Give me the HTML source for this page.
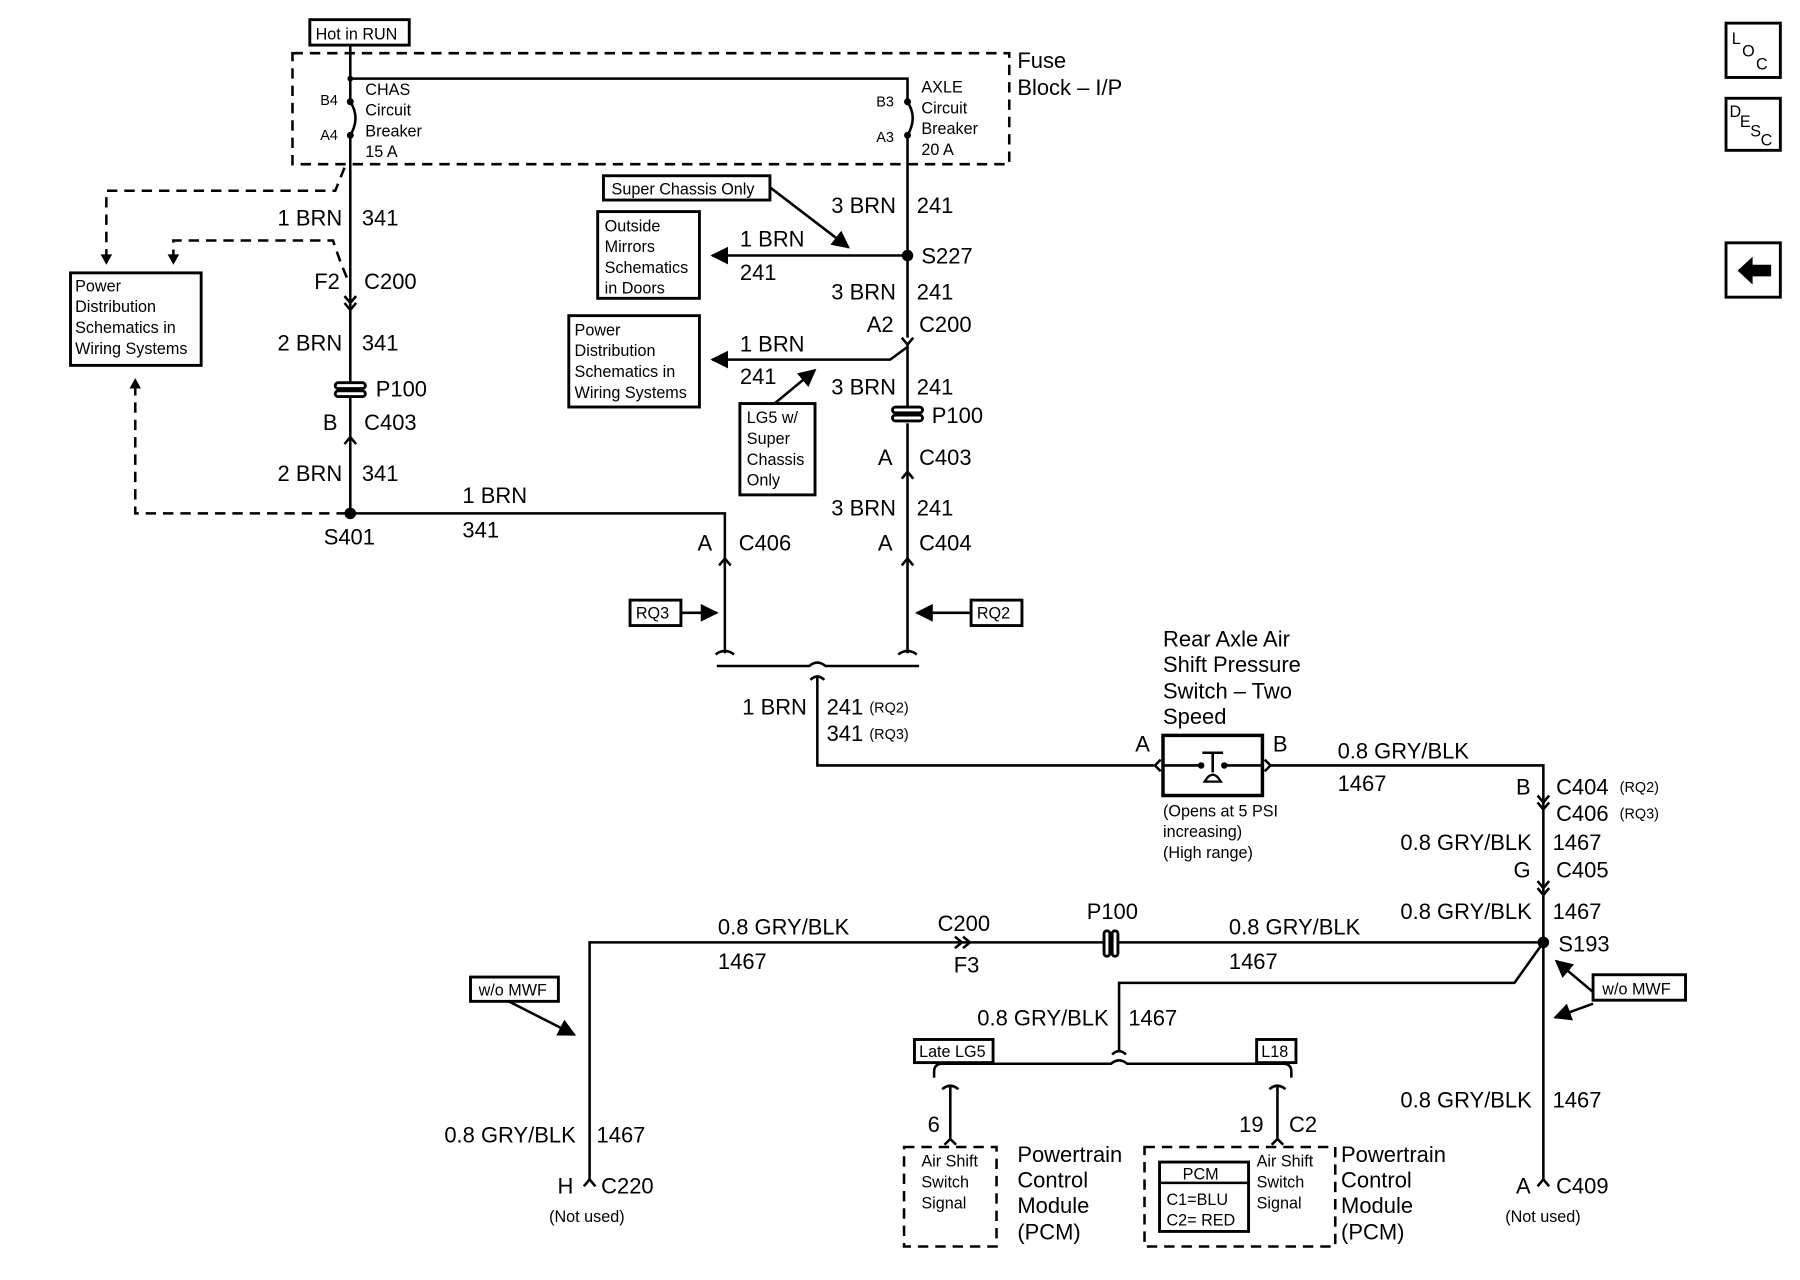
<!DOCTYPE html>
<html><head><meta charset="utf-8"><style>
html,body{margin:0;padding:0;background:#fff;}
svg{display:block;}
text{font-family:"Liberation Sans",Arial,sans-serif;fill:#000;}
.L{font-size:19px;}
.M{font-size:14px;}
.S{font-size:12.5px;}
.w{stroke:#000;stroke-width:2.2;fill:none;}
.d{stroke:#000;stroke-width:2.2;fill:none;stroke-dasharray:9,6;}
.b{stroke:#000;stroke-width:2.5;fill:#fff;}
</style></head><body>
<svg width="1800" height="1280" viewBox="0 0 1557 1107" preserveAspectRatio="none" xmlns="http://www.w3.org/2000/svg">
<defs>
<marker id="ah" viewBox="0 0 10 10" refX="9" refY="5" markerWidth="7" markerHeight="7" orient="auto"><path d="M0,0 L10,5 L0,10 z" fill="#000"/></marker>
</defs>
<rect width="1557" height="1107" fill="#fff"/>

<!-- Hot in RUN -->
<rect x="268" y="17" width="86" height="22" class="b"/>
<text x="273" y="34" class="M">Hot in RUN</text>
<!-- fuse block -->
<rect x="253" y="46" width="620" height="96" class="d" stroke-width="2.6"/>
<text x="880" y="59" class="L">Fuse</text>
<text x="880" y="82" class="L">Block – I/P</text>

<!-- main wires -->
<path class="w" d="M303,39 V86 M303,119 V444 M303,68 H785 V86 M785,119 V292"/>
<path class="w" d="M303,88 Q312,102 303,117 M785,88 Q794,102 785,117"/>
<circle cx="303" cy="68" r="2.5"/><circle cx="303" cy="88" r="3"/><circle cx="303" cy="117" r="3"/>
<circle cx="785" cy="88" r="3"/><circle cx="785" cy="117" r="3"/>
<text x="277" y="91" class="S">B4</text><text x="277" y="121" class="S">A4</text>
<text x="316" y="82" class="M">CHAS</text><text x="316" y="100" class="M">Circuit</text><text x="316" y="118" class="M">Breaker</text><text x="316" y="136" class="M">15 A</text>
<text x="758" y="92" class="S">B3</text><text x="758" y="123" class="S">A3</text>
<text x="797" y="80" class="M">AXLE</text><text x="797" y="98" class="M">Circuit</text><text x="797" y="116" class="M">Breaker</text><text x="797" y="134" class="M">20 A</text>

<!-- left column -->
<text x="296" y="195" class="L" text-anchor="end">1 BRN</text><text x="313" y="195" class="L">341</text>
<text x="294" y="250" class="L" text-anchor="end">F2</text><text x="315" y="250" class="L">C200</text>
<path class="w" d="M298,256 L303,262 L308,256 M298,262 L303,268 L308,262"/>
<text x="296" y="303" class="L" text-anchor="end">2 BRN</text><text x="313" y="303" class="L">341</text>
<rect x="290" y="331" width="26" height="5" rx="2.5" class="b" stroke-width="2"/>
<rect x="290" y="338" width="26" height="5" rx="2.5" class="b" stroke-width="2"/>
<text x="325" y="343" class="L">P100</text>
<text x="292" y="372" class="L" text-anchor="end">B</text><text x="315" y="372" class="L">C403</text>
<path class="w" d="M298,384 L303,378 L308,384"/>
<text x="296" y="416" class="L" text-anchor="end">2 BRN</text><text x="313" y="416" class="L">341</text>
<circle cx="303" cy="444" r="5"/>
<text x="280" y="471" class="L">S401</text>
<path class="w" d="M303,444 H627 V565"/>
<text x="400" y="435" class="L">1 BRN</text><text x="400" y="465" class="L">341</text>
<text x="616" y="476" class="L" text-anchor="end">A</text><text x="639" y="476" class="L">C406</text>
<path class="w" d="M622,489 L627,483 L632,489"/>

<!-- left dashed refs -->
<rect x="61" y="236" width="113" height="80" class="b"/>
<text x="65" y="252" class="M">Power</text><text x="65" y="270" class="M">Distribution</text><text x="65" y="288" class="M">Schematics in</text><text x="65" y="306" class="M">Wiring Systems</text>
<path class="d" d="M298,145 L290,165 H92 V222" /><path d="M87,220 L92,229 L97,220 z"/>
<path class="d" d="M300,240 L295,228 L288,208 H150 V222"/><path d="M145,220 L150,229 L155,220 z"/>
<path class="d" d="M300,444 H117 V334"/><path d="M112,336 L117,327 L122,336 z"/>

<!-- right column -->
<text x="775" y="184" class="L" text-anchor="end">3 BRN</text><text x="793" y="184" class="L">241</text>
<circle cx="785" cy="221" r="5"/>
<text x="797" y="228" class="L">S227</text>
<path class="w" d="M785,221 H616" marker-end="url(#ah)"/>
<text x="640" y="213" class="L">1 BRN</text><text x="640" y="242" class="L">241</text>
<rect x="522" y="152" width="144" height="21" class="b"/>
<text x="529" y="168" class="M">Super Chassis Only</text>
<path class="w" d="M666,162 L734,214" marker-end="url(#ah)"/>
<rect x="517" y="183" width="88" height="75" class="b"/>
<text x="523" y="200" class="M">Outside</text><text x="523" y="218" class="M">Mirrors</text><text x="523" y="236" class="M">Schematics</text><text x="523" y="254" class="M">in Doors</text>
<text x="775" y="259" class="L" text-anchor="end">3 BRN</text><text x="793" y="259" class="L">241</text>
<text x="773" y="287" class="L" text-anchor="end">A2</text><text x="795" y="287" class="L">C200</text>
<path class="w" d="M780,292 L785,298 L790,292 M785,298 V300 L770,311 H616" marker-end="url(#ah)"/>
<path class="w" d="M785,300 V352 M785,366 V565"/>
<text x="640" y="304" class="L">1 BRN</text><text x="640" y="332" class="L">241</text>
<rect x="492" y="273" width="113" height="79" class="b"/>
<text x="497" y="290" class="M">Power</text><text x="497" y="308" class="M">Distribution</text><text x="497" y="326" class="M">Schematics in</text><text x="497" y="344" class="M">Wiring Systems</text>
<rect x="640" y="349" width="65" height="79" class="b"/>
<text x="646" y="366" class="M">LG5 w/</text><text x="646" y="384" class="M">Super</text><text x="646" y="402" class="M">Chassis</text><text x="646" y="420" class="M">Only</text>
<path class="w" d="M670,349 L705,320" marker-end="url(#ah)"/>
<text x="775" y="341" class="L" text-anchor="end">3 BRN</text><text x="793" y="341" class="L">241</text>
<rect x="772" y="352" width="26" height="5" rx="2.5" class="b" stroke-width="2"/>
<rect x="772" y="359" width="26" height="5" rx="2.5" class="b" stroke-width="2"/>
<text x="806" y="366" class="L">P100</text>
<text x="772" y="402" class="L" text-anchor="end">A</text><text x="795" y="402" class="L">C403</text>
<path class="w" d="M780,414 L785,408 L790,414"/>
<text x="775" y="446" class="L" text-anchor="end">3 BRN</text><text x="793" y="446" class="L">241</text>
<text x="772" y="476" class="L" text-anchor="end">A</text><text x="795" y="476" class="L">C404</text>
<path class="w" d="M780,489 L785,483 L790,489"/>

<!-- RQ3 RQ2 -->
<rect x="545" y="519" width="44" height="22" class="b"/><text x="550" y="535" class="M">RQ3</text>
<path class="w" d="M590,530 H620" marker-end="url(#ah)"/>
<rect x="840" y="519" width="44" height="22" class="b"/><text x="845" y="535" class="M">RQ2</text>
<path class="w" d="M840,530 H793" marker-end="url(#ah)"/>

<!-- bracket -->
<path class="w" d="M619,566 Q627,560 635,566 M777,566 Q785,560 793,566"/>
<path class="w" d="M620,576 H700 Q707,570 714,576 H795"/>
<path class="w" d="M701,588 Q707,582 713,588 M707,584 V662 H998"/>
<text x="698" y="618" class="L" text-anchor="end">1 BRN</text>
<text x="715" y="618" class="L">241</text><text x="752" y="616" class="S">(RQ2)</text>
<text x="715" y="641" class="L">341</text><text x="752" y="639" class="S">(RQ3)</text>

<!-- switch -->
<text x="1006" y="559" class="L">Rear Axle Air</text><text x="1006" y="581" class="L">Shift Pressure</text><text x="1006" y="604" class="L">Switch – Two</text><text x="1006" y="626" class="L">Speed</text>
<rect x="1006" y="636" width="86" height="52" fill="none" stroke="#000" stroke-width="3"/>
<path class="w" d="M1004,657 L999,662 L1004,667 M1094,657 L1099,662 L1094,667"/>
<path class="w" d="M1006,662 H1039 M1059,662 H1092 M1040,651 H1058 M1049,651 V668"/>
<circle cx="1039" cy="662" r="2.8"/><circle cx="1059" cy="662" r="2.8"/>
<path d="M1042,676 Q1049,664 1056,676 z" fill="#fff" stroke="#000" stroke-width="2"/>
<text x="982" y="650" class="L">A</text><text x="1101" y="650" class="L">B</text>
<text x="1006" y="706" class="M">(Opens at 5 PSI</text><text x="1006" y="724" class="M">increasing)</text><text x="1006" y="742" class="M">(High range)</text>
<path class="w" d="M1099,662 H1335 V1020"/>
<text x="1157" y="656" class="L">0.8 GRY/BLK</text><text x="1157" y="684" class="L">1467</text>
<text x="1324" y="687" class="L" text-anchor="end">B</text><text x="1346" y="687" class="L">C404</text><text x="1401" y="685" class="S">(RQ2)</text>
<text x="1346" y="710" class="L">C406</text><text x="1401" y="708" class="S">(RQ3)</text>
<path class="w" d="M1330,688 L1335,694 L1340,688 M1330,694 L1335,700 L1340,694"/>
<text x="1325" y="735" class="L" text-anchor="end">0.8 GRY/BLK</text><text x="1343" y="735" class="L">1467</text>
<text x="1324" y="759" class="L" text-anchor="end">G</text><text x="1346" y="759" class="L">C405</text>
<path class="w" d="M1330,762 L1335,768 L1340,762 M1330,768 L1335,774 L1340,768"/>
<text x="1325" y="795" class="L" text-anchor="end">0.8 GRY/BLK</text><text x="1343" y="795" class="L">1467</text>
<circle cx="1335" cy="815" r="5"/>
<text x="1348" y="823" class="L">S193</text>

<!-- bottom horizontal -->
<path class="w" d="M1335,815 H966 M958,815 H510 V1020"/>
<rect x="955" y="805" width="5" height="22" rx="2.5" class="b" stroke-width="2"/>
<rect x="962" y="805" width="5" height="22" rx="2.5" class="b" stroke-width="2"/>
<text x="940" y="795" class="L">P100</text>
<path class="w" d="M826,810 L832,815 L826,820 M833,810 L839,815 L833,820"/>
<text x="811" y="805" class="L">C200</text><text x="825" y="841" class="L">F3</text>
<text x="621" y="808" class="L">0.8 GRY/BLK</text><text x="621" y="838" class="L">1467</text>
<text x="1063" y="808" class="L">0.8 GRY/BLK</text><text x="1063" y="838" class="L">1467</text>
<path class="w" d="M1335,815 L1310,850 H968 V910"/>
<text x="959" y="887" class="L" text-anchor="end">0.8 GRY/BLK</text><text x="976" y="887" class="L">1467</text>
<path class="w" d="M808,932 V927 Q808,920 815,920 H961 Q968,914 975,920 H1110 Q1117,920 1117,927 V932"/>
<path class="w" d="M962,912 Q968,906 974,912"/>
<rect x="791" y="899" width="68" height="20" class="b"/><text x="795" y="914" class="M">Late LG5</text>
<rect x="1087" y="899" width="34" height="20" class="b"/><text x="1091" y="914" class="M">L18</text>
<path class="w" d="M815,942 Q822,936 829,942 M822,938 V985 M1098,942 Q1105,936 1112,942 M1105,938 V985"/>
<text x="813" y="979" class="L" text-anchor="end">6</text>
<text x="1093" y="979" class="L" text-anchor="end">19</text><text x="1115" y="979" class="L">C2</text>
<path class="w" d="M817,990 L822,985 L827,990 M1100,990 L1105,985 L1110,990"/>
<rect x="782" y="992" width="80" height="86" class="d" stroke-width="2.6"/>
<text x="797" y="1009" class="M">Air Shift</text><text x="797" y="1027" class="M">Switch</text><text x="797" y="1045" class="M">Signal</text>
<text x="880" y="1005" class="L">Powertrain</text><text x="880" y="1027" class="L">Control</text><text x="880" y="1049" class="L">Module</text><text x="880" y="1072" class="L">(PCM)</text>
<rect x="990" y="992" width="165" height="86" class="d" stroke-width="2.6"/>
<rect x="1003" y="1005" width="77" height="60" fill="none" stroke="#000" stroke-width="2.5"/>
<path class="w" d="M1003,1023 H1080"/>
<text x="1023" y="1020" class="M">PCM</text>
<text x="1009" y="1042" class="M">C1=BLU</text><text x="1009" y="1060" class="M">C2= RED</text>
<text x="1087" y="1009" class="M">Air Shift</text><text x="1087" y="1027" class="M">Switch</text><text x="1087" y="1045" class="M">Signal</text>
<text x="1160" y="1005" class="L">Powertrain</text><text x="1160" y="1027" class="L">Control</text><text x="1160" y="1049" class="L">Module</text><text x="1160" y="1072" class="L">(PCM)</text>

<!-- w/o MWF -->
<rect x="407" y="845" width="76" height="21" class="b"/><text x="414" y="861" class="M">w/o MWF</text>
<path class="w" d="M440,866 L497,895" marker-end="url(#ah)"/>
<rect x="1378" y="843" width="80" height="22" class="b"/><text x="1386" y="860" class="M">w/o MWF</text>
<path class="w" d="M1378,858 L1346,831" marker-end="url(#ah)"/>
<path class="w" d="M1378,868 L1345,880" marker-end="url(#ah)"/>

<!-- bottom ends -->
<text x="498" y="988" class="L" text-anchor="end">0.8 GRY/BLK</text><text x="516" y="988" class="L">1467</text>
<text x="496" y="1032" class="L" text-anchor="end">H</text><text x="520" y="1032" class="L">C220</text>
<path class="w" d="M505,1026 L510,1020 L515,1026"/>
<text x="475" y="1057" class="M">(Not used)</text>
<text x="1325" y="958" class="L" text-anchor="end">0.8 GRY/BLK</text><text x="1343" y="958" class="L">1467</text>
<text x="1324" y="1032" class="L" text-anchor="end">A</text><text x="1346" y="1032" class="L">C409</text>
<path class="w" d="M1330,1026 L1335,1020 L1340,1026"/>
<text x="1302" y="1057" class="M">(Not used)</text>

<!-- nav icons -->
<rect x="1493" y="20" width="47" height="47" fill="none" stroke="#000" stroke-width="2.5"/>
<text x="1498" y="38" class="M">L</text><text x="1507" y="49" class="M">O</text><text x="1519" y="60" class="M">C</text>
<rect x="1493" y="85" width="47" height="45" fill="none" stroke="#000" stroke-width="2.5"/>
<text x="1496" y="101" class="M">D</text><text x="1505" y="110" class="M">E</text><text x="1514" y="118" class="M">S</text><text x="1523" y="126" class="M">C</text>
<rect x="1493" y="210" width="47" height="47" fill="none" stroke="#000" stroke-width="2.5"/>
<path d="M1503,234 L1516,222 V229 H1532 V239 H1516 V246 z" fill="#000"/>
</svg>
</body></html>
